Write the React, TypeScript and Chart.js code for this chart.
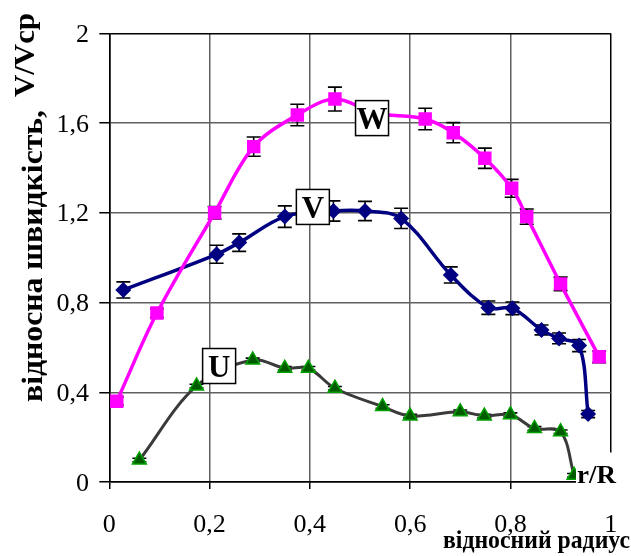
import React, { useEffect, useRef } from 'react';
import { Chart, registerables } from 'chart.js';
Chart.register(...registerables);

// ---- data ----
const X_TICKS = [0, 0.2, 0.4, 0.6, 0.8, 1];
const Y_TICKS = [0, 0.4, 0.8, 1.2, 1.6, 2];

const W_X = [0.015, 0.095, 0.21, 0.288, 0.375, 0.45, 0.53, 0.63, 0.686, 0.749, 0.8025, 0.8325, 0.9, 0.977];
const W_Y = [0.36, 0.753, 1.2, 1.495, 1.636, 1.707, 1.645, 1.618, 1.557, 1.443, 1.309, 1.183, 0.883, 0.558];
const W_ERR = [0.018, 0.02, 0.028, 0.043, 0.048, 0.053, 0.05, 0.048, 0.045, 0.045, 0.04, 0.034, 0.03, 0.026];

const V_X = [0.028, 0.214, 0.259, 0.35, 0.447, 0.51, 0.582, 0.681, 0.756, 0.804, 0.862, 0.897, 0.937, 0.955];
const V_Y = [0.856, 1.015, 1.067, 1.183, 1.208, 1.208, 1.175, 0.923, 0.777, 0.774, 0.678, 0.64, 0.608, 0.303];
const V_ERR = [0.036, 0.04, 0.039, 0.048, 0.045, 0.043, 0.045, 0.036, 0.03, 0.028, 0.022, 0.024, 0.027, 0.016];

const U_X = [0.06, 0.174, 0.286, 0.35, 0.397, 0.45, 0.545, 0.6, 0.7, 0.748, 0.8, 0.848, 0.9, 0.927];
const U_Y = [0.098, 0.428, 0.544, 0.507, 0.507, 0.418, 0.336, 0.294, 0.313, 0.294, 0.3, 0.239, 0.224, 0.03];
const U_ERR = [0.008, 0.008, 0.008, 0.008, 0.008, 0.008, 0.008, 0.008, 0.008, 0.008, 0.008, 0.008, 0.008, 0.008];

const SERIES_LABELS = [
  { text: 'W', x: 0.524, y: 1.622 },
  { text: 'V', x: 0.406, y: 1.226 },
  { text: 'U', x: 0.219, y: 0.517 },
];

const Y_TITLE_1 = 'відносна швидкість,';
const Y_TITLE_2 = 'V/Vcp';
const X_TITLE = 'відносний радиус';
const X_UNIT = 'r/R';

const ERRS = [W_ERR, V_ERR, U_ERR];
const SERIF = '"Liberation Serif", "Times New Roman", "DejaVu Serif", serif';

const fmt = (v: number) => String(Math.round(v * 10) / 10).replace('.', ',');

function fitText(ctx: CanvasRenderingContext2D, text: string, x: number, y: number, font: string,
  targetW: number | null, align: CanvasTextAlign, rotate: boolean) {
  ctx.save();
  ctx.translate(x, y);
  if (rotate) ctx.rotate(-Math.PI / 2);
  ctx.font = font;
  const w = ctx.measureText(text).width;
  const s = targetW ? targetW / w : 1;
  ctx.scale(s, 1);
  ctx.textAlign = align;
  ctx.textBaseline = 'alphabetic';
  ctx.fillStyle = '#000';
  ctx.fillText(text, 0, 0);
  ctx.restore();
}

const errorBars = {
  id: 'errorBars',
  beforeDatasetsDraw(chart: any) {
    const ctx = chart.ctx;
    const xs = chart.scales.x, ys = chart.scales.y;
    ctx.save();
    ctx.strokeStyle = '#000';
    ctx.lineWidth = 1.6;
    chart.data.datasets.forEach((ds: any, di: number) => {
      ds.data.forEach((p: any, i: number) => {
        const e = ERRS[di][i];
        const px = xs.getPixelForValue(p.x);
        const y1 = ys.getPixelForValue(p.y + e);
        const y2 = ys.getPixelForValue(p.y - e);
        ctx.beginPath();
        ctx.moveTo(px, y1); ctx.lineTo(px, y2);
        ctx.moveTo(px - 7, y1); ctx.lineTo(px + 7, y1);
        ctx.moveTo(px - 7, y2); ctx.lineTo(px + 7, y2);
        ctx.stroke();
      });
    });
    ctx.restore();
  },
};

const annotations = {
  id: 'annotations',
  afterDatasetsDraw(chart: any) {
    const ctx = chart.ctx;
    const xs = chart.scales.x, ys = chart.scales.y;
    ctx.save();
    SERIES_LABELS.forEach((l) => {
      const cx = xs.getPixelForValue(l.x);
      const cy = ys.getPixelForValue(l.y);
      const bw = 33, bh = 35;
      ctx.fillStyle = '#fff';
      ctx.fillRect(cx - bw / 2, cy - bh / 2, bw, bh);
      ctx.strokeStyle = '#000';
      ctx.lineWidth = 1.5;
      ctx.strokeRect(cx - bw / 2, cy - bh / 2, bw, bh);
      fitText(ctx, l.text, cx, cy + 11, `bold 31px ${SERIF}`, null, 'center', false);
    });
    ctx.restore();
  },
  afterDraw(chart: any) {
    const ctx = chart.ctx;
    const xs = chart.scales.x, ys = chart.scales.y;
    ctx.save();
    Y_TICKS.forEach((v) => {
      fitText(ctx, fmt(v), 89, ys.getPixelForValue(v) + 8.6, `26px ${SERIF}`, null, 'right', false);
    });
    X_TICKS.forEach((v) => {
      fitText(ctx, fmt(v), xs.getPixelForValue(v), 531.6, `26px ${SERIF}`, null, 'center', false);
    });
    ctx.fillStyle = '#fff';
    ctx.fillRect(576, 452.5, 55, 37);
    fitText(ctx, X_UNIT, 577, 483, `bold 25px ${SERIF}`, 39, 'left', false);
    fitText(ctx, X_TITLE, 630, 548, `bold 25px ${SERIF}`, 187, 'right', false);
    fitText(ctx, Y_TITLE_1, 42, 402, `bold 29px ${SERIF}`, 292, 'left', true);
    fitText(ctx, Y_TITLE_2, 33.5, 97, `bold 30px ${SERIF}`, 84, 'left', true);
    ctx.restore();
  },
};

const gridColor = (lo: number, hi: number) => (c: any) => {
  const v = c.tick ? c.tick.value : null;
  return v === lo || v === hi ? '#000' : '#606060';
};

export default function App() {
  const ref = useRef<HTMLCanvasElement>(null);
  useEffect(() => {
    if (!ref.current) return;
    const mk = (xs: number[], ys: number[]) => xs.map((x, i) => ({ x, y: ys[i] }));
    const chart = new Chart(ref.current, {
      type: 'line',
      data: {
        datasets: [
          {
            label: 'W', data: mk(W_X, W_Y), borderColor: '#FF00FF', borderWidth: 3.5,
            pointStyle: 'rect', pointRadius: 9.5, pointBackgroundColor: '#FF00FF',
            pointBorderColor: '#FF00FF', pointBorderWidth: 0, tension: 0.35,
          },
          {
            label: 'V', data: mk(V_X, V_Y), borderColor: '#000080', borderWidth: 3.5,
            pointStyle: 'rectRot', pointRadius: 8, pointBackgroundColor: '#000080',
            pointBorderColor: '#000080', pointBorderWidth: 0, tension: 0.35,
          },
          {
            label: 'U', data: mk(U_X, U_Y), borderColor: '#3a3a3a', borderWidth: 3,
            pointStyle: 'triangle', pointRadius: 8, pointBackgroundColor: '#005a00',
            pointBorderColor: '#00a000', pointBorderWidth: 1.5, tension: 0.35,
          },
        ] as any,
      },
      options: {
        responsive: false,
        devicePixelRatio: 1,
        animation: false,
        layout: { padding: { top: 33.3, right: 20.3, left: 0, bottom: 0 } },
        plugins: { legend: { display: false }, tooltip: { enabled: false } },
        scales: {
          x: {
            type: 'linear', min: 0, max: 1,
            afterBuildTicks: (s: any) => { s.ticks = X_TICKS.map((v) => ({ value: v })); },
            afterFit: (s: any) => { s.height = 74; },
            ticks: { display: false },
            grid: { color: gridColor(0, 1), lineWidth: 1.5, tickLength: 7, tickColor: '#000' },
            border: { color: '#000', width: 1.5 },
          },
          y: {
            type: 'linear', min: 0, max: 2,
            afterBuildTicks: (s: any) => { s.ticks = Y_TICKS.map((v) => ({ value: v })); },
            afterFit: (s: any) => { s.width = 109.3; },
            ticks: { display: false },
            grid: { color: gridColor(0, 2), lineWidth: 1.5, tickLength: 10, tickColor: '#000' },
            border: { color: '#000', width: 1.5 },
          },
        },
      } as any,
      plugins: [errorBars, annotations],
    });
    let alive = true;
    const fonts: any = (document as any).fonts;
    if (fonts && fonts.load) {
      Promise.all([
        fonts.load('26px "Liberation Serif"', '0,2відн'),
        fonts.load('bold 26px "Liberation Serif"', 'відносний W'),
      ]).then(() => { if (alive) chart.draw(); }).catch(() => {});
    }
    return () => { alive = false; chart.destroy(); };
  }, []);
  return (
    <div style={{ position: 'absolute', left: 0, top: 0, width: 631, height: 556, background: '#fff' }}>
      <span style={{ position: 'absolute', left: -9999, fontFamily: '"Liberation Serif"' }}>0 <b>в</b></span>
      <canvas ref={ref} width={631} height={556} />
    </div>
  );
}
